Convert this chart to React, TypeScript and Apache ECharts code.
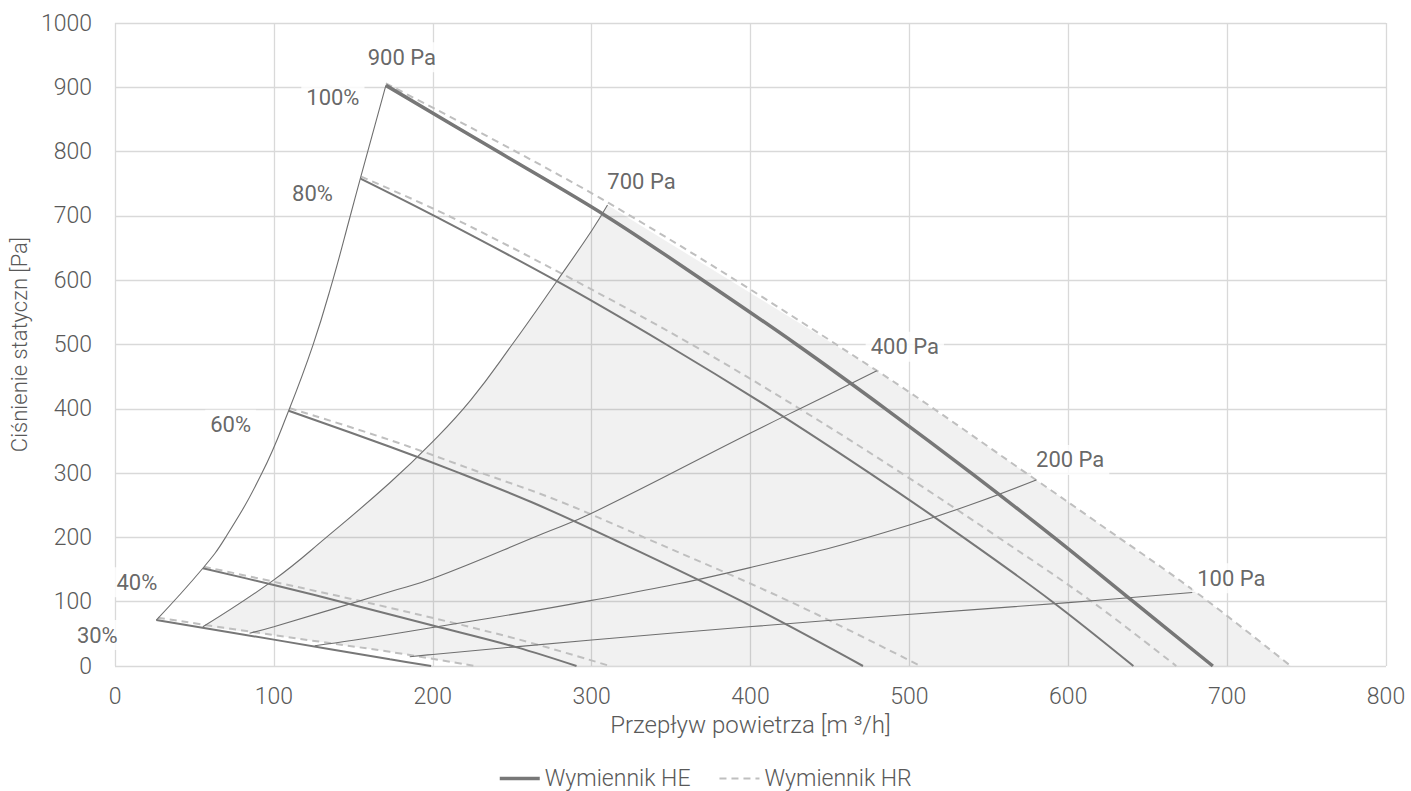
import React, { useEffect, useRef } from "react";
import * as echarts from "echarts";

// ---- data (x: air flow m3/h, y: static pressure Pa) ----
const xTicks = [0, 100, 200, 300, 400, 500, 600, 700, 800];
const yTicks = [0, 100, 200, 300, 400, 500, 600, 700, 800, 900, 1000];

// Fan curves, exchanger HE (solid)
const he100 = [[170.5, 903], [241, 800], [309, 700], [370, 600], [429, 500], [485, 400], [539, 300], [591, 200], [641, 100], [691, 0]];
const he80 = [[154.5, 758], [201, 700], [277, 600], [347, 500], [413, 400], [475, 300], [534, 200], [590, 100], [641, 0]];
const he60 = [[109.3, 397], [173, 341], [217, 300], [262, 255], [311, 200], [395, 100], [470.8, 0]];
const he40 = [[55.3, 152], [100, 126], [150, 95], [200, 63], [253, 29], [290.5, 0]];
const he30 = [[26, 71.5], [100, 41], [173, 10.4], [199, 0]];

// Fan curves, exchanger HR (dashed)
const hr100 = [[170.5, 906], [310.4, 720.5], [479.5, 459.3], [579.8, 289.3], [616, 227], [680.5, 114.6], [740, 0]];
const hr80 = [[155, 761], [210, 700], [289, 600], [363, 500], [431, 400], [495, 300], [556, 200], [615, 100], [668, 0]];
const hr60 = [[110, 401], [173, 351.5], [231, 300], [278, 258], [333, 200], [425, 100], [507, 0]];
const hr40 = [[56, 154.5], [100, 131], [173, 90.5], [253, 42], [311.5, 0]];
const hr30 = [[27, 75], [100, 48], [173, 22], [226.5, 0]];

// System (duct) curves
const sys900 = [[26, 71.5], [55.3, 152], [69.6, 200], [92.5, 300], [109.3, 397], [124.6, 499], [137.2, 601], [148.2, 701], [154.4, 758], [170.5, 903]];
const sys700 = [[55.3, 61], [100, 134], [133, 200], [173, 285], [200, 349], [224, 414], [250, 500], [278, 598], [300, 677], [310, 717]];
const sys400 = [[84.7, 51], [100, 61], [173, 115.6], [200, 136], [269.5, 206], [300, 237.5], [399.7, 362], [441.7, 413], [479.5, 459.3]];
const sys200 = [[125.7, 31.6], [150, 40], [200, 60], [300, 102], [399.7, 153], [501, 220], [579.8, 289.3]];
const sys100 = [[185.5, 14.5], [200, 18], [300, 40.4], [399, 61], [494.6, 79.3], [600, 98.5], [680, 114.6]];

const fanNames = ["100%", "80%", "60%", "40%", "30%"];
const sysNames = ["900 Pa", "700 Pa", "400 Pa", "200 Pa", "100 Pa"];
const legendNames = ["Wymiennik HE", "Wymiennik HR"];

// ---- styling ----
const SOLID = "#777777";
const DASH = "#bfbfbf";
const SYS = "#6f6f6f";
const TXT = "#595959";
const LBL = "#404040";
const FONT = "Roboto";

// label offsets (pixels) relative to anchor points
const fanOffsets = [[-53, 12], [-48, 15], [-58, 14], [-66, 14], [-59, 15]];
const sysOffsets = [[16, -28], [34, -23], [28, -24], [34, -20], [36, -14]];

export default function App() {
  const ref = useRef<HTMLDivElement>(null);

  useEffect(() => {
    if (!ref.current) return;
    const chart = echarts.init(ref.current, undefined, { renderer: "svg" });

    const heCurves = [he100, he80, he60, he40, he30];
    const hrCurves = [hr100, hr80, hr60, hr40, hr30];
    const sysCurves = [sys900, sys700, sys400, sys200, sys100];

    const topY = sys700[sys700.length - 1][1];
    const fillPts = [
      ...sys700,
      ...hr100.filter((p) => p[1] < topY),
      ...hr30.slice().reverse().filter((p) => p[0] > sys700[0][0]),
    ];

    const series: any[] = [];
    series.push({
      type: "custom",
      name: "fill",
      silent: true,
      z: 1,
      data: [[0, 0]],
      renderItem: (params: any, api: any) => {
        if (params.dataIndex !== 0) return null;
        const pts = fillPts.map((p) => api.coord(p));
        return {
          type: "polygon",
          shape: { points: pts },
          style: { fill: "rgba(0,0,0,0.055)", stroke: "none" },
        };
      },
    });

    heCurves.forEach((c, i) => {
      series.push({
        type: "line",
        name: legendNames[0],
        data: c,
        symbol: "none",
        smooth: 0.35,
        z: 4,
        lineStyle: { color: SOLID, width: i === 0 ? 3.5 : 2, type: "solid" },
        itemStyle: { color: SOLID },
      });
    });
    hrCurves.forEach((c) => {
      series.push({
        type: "line",
        name: legendNames[1],
        data: c,
        symbol: "none",
        smooth: 0.35,
        z: 3,
        lineStyle: { color: DASH, width: 2, type: [7, 5] },
        itemStyle: { color: DASH },
      });
    });
    sysCurves.forEach((c, i) => {
      series.push({
        type: "line",
        name: "sys" + i,
        data: c,
        symbol: "none",
        smooth: 0.45,
        z: 3,
        lineStyle: { color: SYS, width: 1.1 },
        itemStyle: { color: SYS },
      });
    });

    const labelData: any[] = [];
    heCurves.forEach((c, i) => {
      labelData.push({ value: c[0], name: fanNames[i], label: { offset: fanOffsets[i] } });
    });
    sysCurves.forEach((c, i) => {
      labelData.push({ value: c[c.length - 1], name: sysNames[i], label: { offset: sysOffsets[i] } });
    });
    series.push({
      type: "scatter",
      name: "labels",
      data: labelData,
      symbolSize: 0,
      silent: true,
      clip: false,
      z: 10,
      label: {
        show: true,
        position: "inside",
        formatter: "{b}",
        color: LBL,
        fontFamily: FONT,
        fontSize: 22,
        backgroundColor: "#ffffff",
        padding: [4, 5],
      },
    });

    chart.setOption({
      animation: false,
      backgroundColor: "#ffffff",
      textStyle: { fontFamily: FONT },
      grid: { left: 115, right: 25, top: 23, bottom: 125, containLabel: false },
      legend: {
        data: [
          { name: legendNames[0], lineStyle: { width: 3.5, color: SOLID, type: "solid" } },
          { name: legendNames[1], lineStyle: { width: 2, color: DASH, type: [7, 5] } },
        ],
        left: 493,
        top: 762,
        itemWidth: 40,
        itemHeight: 14,
        itemGap: 28,
        itemStyle: { opacity: 0 },
        textStyle: { color: TXT, fontSize: 23, lineHeight: 22, fontFamily: FONT, fontWeight: 300 },
      },
      xAxis: {
        type: "value",
        min: xTicks[0],
        max: xTicks[xTicks.length - 1],
        interval: xTicks[1] - xTicks[0],
        name: "Przepływ powietrza [m ³/h]",
        nameLocation: "middle",
        nameGap: 47,
        nameTextStyle: { color: TXT, fontSize: 24, fontFamily: FONT, fontWeight: 300 },
        axisLine: { show: false },
        axisTick: { show: false },
        axisLabel: { color: TXT, fontSize: 23, fontFamily: FONT, fontWeight: 300, margin: 19, formatter: (v: number) => String(v) },
        splitLine: { show: true, lineStyle: { color: "#d9d9d9", width: 1.3 } },
      },
      yAxis: {
        type: "value",
        min: yTicks[0],
        max: yTicks[yTicks.length - 1],
        interval: yTicks[1] - yTicks[0],
        name: "Ciśnienie statyczn [Pa]",
        nameLocation: "middle",
        nameGap: 81,
        nameTextStyle: { color: TXT, fontSize: 22, fontFamily: FONT, fontWeight: 300 },
        axisLine: { show: false },
        axisTick: { show: false },
        axisLabel: { color: TXT, fontSize: 23, fontFamily: FONT, fontWeight: 300, margin: 23, formatter: (v: number) => String(v) },
        splitLine: { show: true, lineStyle: { color: "#d9d9d9", width: 1.3 } },
      },
      series,
    });

    return () => chart.dispose();
  }, []);

  return (
    <div
      ref={ref}
      style={{ position: "fixed", left: 0, top: 0, width: 1411, height: 791, background: "#fff" }}
    />
  );
}
